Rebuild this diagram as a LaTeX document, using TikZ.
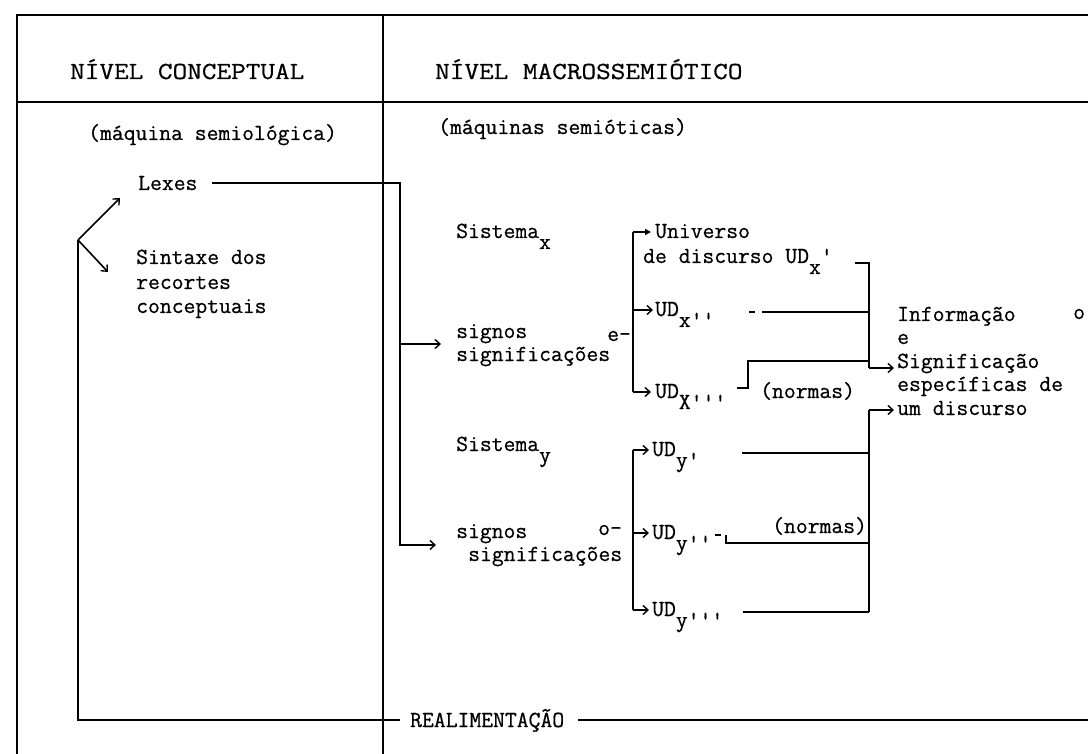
\documentclass[tikz,border=0pt]{standalone}
\usepackage{fontspec}
\setmonofont[FakeBold=0.6]{Latin Modern Mono}
\newfontfamily\hdrfont[FakeStretch=1.16,FakeBold=0.6]{Latin Modern Mono}
\usetikzlibrary{arrows.meta,calc}
\tikzset{
  frame/.style={line width=1.8pt},
  ln/.style={line width=1.6pt},
  arr/.style={ln, -{Straight Barb[length=5pt,width=9pt,line width=1.4pt]}},
  farr/.style={ln, -{Triangle[length=6pt,width=6pt]}},
  txt/.style={anchor=base west, inner sep=0pt, font=\ttfamily\fontsize{23}{24}\selectfont},
  hdr/.style={anchor=base west, inner sep=0pt, font=\hdrfont\fontsize{24.5}{26}\selectfont},
}
\newcommand{\sub}[1]{\raisebox{-11pt}{#1}}
\begin{document}
\begin{tikzpicture}[x=1pt,y=-1pt]
\fill[white] (0,0) rectangle (1088,754);
\useasboundingbox (0,0) rectangle (1088,754);

% ---- frame
\coordinate (tl) at (17,15);   \coordinate (tr) at (1088,15);
\coordinate (hl) at (17,102);  \coordinate (hr) at (1088,102);
\coordinate (bl) at (17,754);
\coordinate (dt) at (383,15);  \coordinate (db) at (383,754);
\draw[frame] (tr) -- (tl) -- (bl);
\draw[frame] (hl) -- (hr);
\draw[frame] (dt) -- (db);

% ---- headers
\node[hdr] (h1) at (70,79) {NÍVEL CONCEPTUAL};
\node[hdr] (h2) at (435,79) {NÍVEL MACROSSEMIÓTICO};
\node[txt] (s1) at (88,140) {(máquina semiológica)};
\node[txt] (s2) at (438,134) {(máquinas semióticas)};

% ---- left column
\node[txt] (lexes) at (138,190) {Lexes};
\node[txt] (sint1) at (136,264) {Sintaxe dos};
\node[txt] (sint2) at (136,289) {recortes};
\node[txt] (sint3) at (136,313) {conceptuais};

\coordinate (br) at (78,240);
\coordinate (upTip) at (120,198);
\coordinate (dnTip) at (108,272);
\draw[arr] (br) -- (upTip);
\draw[arr] (br) -- (dnTip);

% feedback
\node[txt] (realim) at (410,727) {REALIMENTAÇÃO};
\coordinate (fbc) at (78,720);
\coordinate (fbm) at (400,720);
\coordinate (fbr) at (578,720);
\coordinate (fbe) at (1088,720);
\draw[ln] (br) -- (fbc) -- (fbm);
\draw[ln] (fbr) -- (fbe);

% lexes connector
\coordinate (lx0) at (212,183);
\coordinate (lx1) at (400,183);
\coordinate (lx2) at (400,545);
\coordinate (syin) at (436,545);
\coordinate (jx) at (400,344);
\coordinate (sxin) at (441,344);
\draw[arr] (lx0) -- (lx1) -- (lx2) -- (syin);
\draw[arr] (jx) -- (sxin);

% ---- system x
\node[txt] (sisx) at (456,238) {Sistema\sub{x}};
\node[txt] (signx1) at (456,338) {signos};
\node[txt] (signx2) at (456,361) {significações};
\node[txt] (ox) at (607,341) {e-};

\coordinate (bxT) at (633,232);
\coordinate (bxM) at (633,310);
\coordinate (bxB) at (633,392);
\coordinate (bxT2) at (651,232);
\coordinate (bxM2) at (653,310);
\coordinate (bxB2) at (651,392);
\draw[ln] (bxT) -- (bxB);
\draw[farr] (bxT) -- (bxT2);
\draw[arr] (bxM) -- (bxM2);
\draw[arr] (bxB) -- (bxB2);

\node[txt] (univ) at (655,238) {Universo};
\node[txt] (disc) at (643,263) {de discurso UD\sub{x}'};
\node[txt] (udx2) at (655,316) {UD\sub{x''}};
\node[txt] (udx3) at (655,398) {UD\sub{X'''}};
\node[txt] (normx) at (760,398) {(normas)};

% lines to right vertical x
\coordinate (vxT0) at (855,263);
\coordinate (vxT) at (869,263);
\coordinate (vxB) at (869,368);
\coordinate (vxA) at (894,368);
\draw[ln] (vxT0) -- (vxT) -- (vxB);
\draw[arr] (vxB) -- (vxA);

\coordinate (dx2a) at (749,312);
\coordinate (dx2b) at (755,312);
\coordinate (lx2a) at (762,312);
\coordinate (lx2b) at (869,312);
\draw[ln] (dx2a) -- (dx2b);
\draw[ln] (lx2a) -- (lx2b);

\coordinate (lx3a) at (737,388);
\coordinate (lx3b) at (748,388);
\coordinate (lx3c) at (748,361);
\coordinate (lx3d) at (869,361);
\draw[ln] (lx3a) -- (lx3b) -- (lx3c) -- (lx3d);

% ---- result block
\node[txt] (inf1) at (897,321) {Informação};
\node[txt] (infO) at (1073,319) {o};
\node[txt] (inf2) at (897,344) {e};
\node[txt] (inf3) at (897,368) {Significação};
\node[txt] (inf4) at (897,391) {específicas de};
\node[txt] (inf5) at (897,415) {um discurso};

% ---- system y
\node[txt] (sisy) at (456,451) {Sistema\sub{y}};
\node[txt] (signy1) at (456,538) {signos};
\node[txt] (signy2) at (468,561) {significações};
\node[txt] (oy) at (598,535) {o-};

\coordinate (byT) at (633,450);
\coordinate (byM) at (633,533);
\coordinate (byB) at (633,610);
\coordinate (byT2) at (649,450);
\coordinate (byM2) at (649,533);
\coordinate (byB2) at (649,610);
\draw[ln] (byT) -- (byB);
\draw[arr] (byT) -- (byT2);
\draw[arr] (byM) -- (byM2);
\draw[arr] (byB) -- (byB2);

\node[txt] (udy1) at (652,456) {UD\sub{y'}};
\node[txt] (udy2) at (652,539) {UD\sub{y''}};
\node[txt] (udy3) at (652,616) {UD\sub{y'''}};
\node[txt] (normy) at (772,533) {(normas)};

\coordinate (vyT) at (869,410);
\coordinate (vyB) at (869,612);
\coordinate (vyA) at (894,410);
\draw[ln] (vyT) -- (vyB);
\draw[arr] (vyT) -- (vyA);

\coordinate (ly1a) at (742,453);
\coordinate (ly1b) at (869,453);
\draw[ln] (ly1a) -- (ly1b);

\coordinate (dy2a) at (715,535);
\coordinate (dy2b) at (721,535);
\coordinate (ly2a) at (726,535);
\coordinate (ly2b) at (726,543);
\coordinate (ly2c) at (869,543);
\draw[ln] (dy2a) -- (dy2b);
\draw[ln] (ly2a) -- (ly2b) -- (ly2c);

\coordinate (ly3a) at (743,612);
\draw[ln] (ly3a) -- (vyB);
\end{tikzpicture}
\end{document}
